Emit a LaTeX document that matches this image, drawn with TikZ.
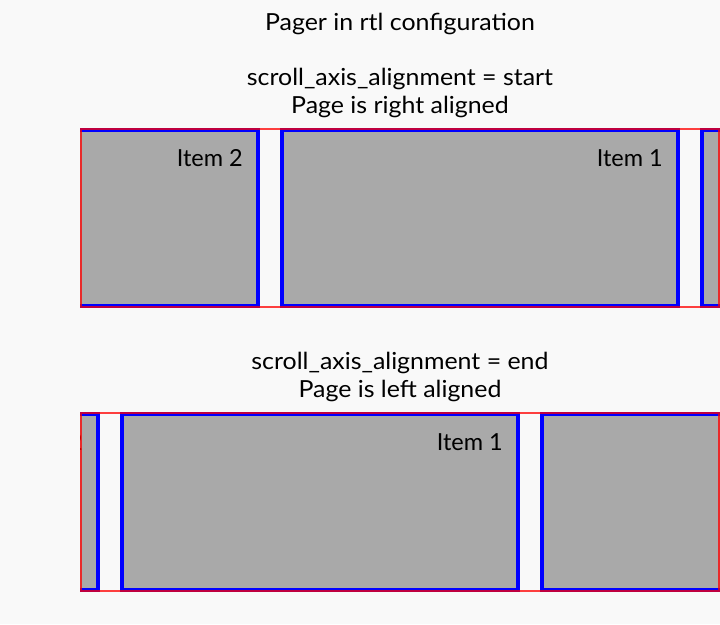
\documentclass[tikz,border=0pt]{standalone}
\usepackage{fontspec}
\setmainfont{Lato}
\newfontfamily\widelato{Lato}[FakeStretch=1.06]
\begin{document}
\begin{tikzpicture}[x=1pt,y=-1pt,
  itembox/.style={fill=itemgray,draw=blue,line width=4pt},
  viewport/.style={draw=red,draw opacity=0.75,line width=2pt},
  label/.style={font=\fontsize{23.5}{28}\selectfont,inner sep=0pt,text=black},
  caption/.style={font=\widelato\fontsize{23.5}{28}\selectfont,inner sep=0pt,text=black,anchor=base}]
\definecolor{bg}{HTML}{F9F9F9}
\definecolor{itemgray}{HTML}{A9A9A9}
\fill[bg] (0,0) rectangle (720,624);
\useasboundingbox (0,0) rectangle (720,624);

% headings
\node[caption] (title) at (400,30) {Pager in rtl configuration};
\node[caption] (capA1) at (400,85) {scroll\_axis\_alignment = start};
\node[caption] (capA2) at (400,113) {Page is right aligned};
\node[caption] (capB1) at (400,369) {scroll\_axis\_alignment = end};
\node[caption] (capB2) at (400,397) {Page is left aligned};

% pager aligned to start (right)
\begin{scope}
  \clip (80,128) rectangle (720,307.5);
  \draw[itembox] (-138,130) rectangle (258,305.5);
  \draw[itembox] (282,130) rectangle (678,305.5);
  \draw[itembox] (702,130) rectangle (1098,305.5);
  \node[label,anchor=base east] (a2) at (243,166) {Item 2};
  \node[label,anchor=base east] (a1) at (663,166) {Item 1};
\end{scope}
\draw[viewport] (81,129) rectangle (719,306.5) node (pagerA) {};

% pager aligned to end (left)
\begin{scope}
  \clip (80,412) rectangle (720,592);
  \draw[itembox] (-298,414) rectangle (98,590);
  \draw[itembox] (122,414) rectangle (518,590);
  \draw[itembox] (542,414) rectangle (938,590);
  \node[label,anchor=base east] (b2) at (83,450) {Item 2};
  \node[label,anchor=base east] (b1) at (503,450) {Item 1};
\end{scope}
\draw[viewport] (81,413) rectangle (719,591) node (pagerB) {};
\end{tikzpicture}
\end{document}
